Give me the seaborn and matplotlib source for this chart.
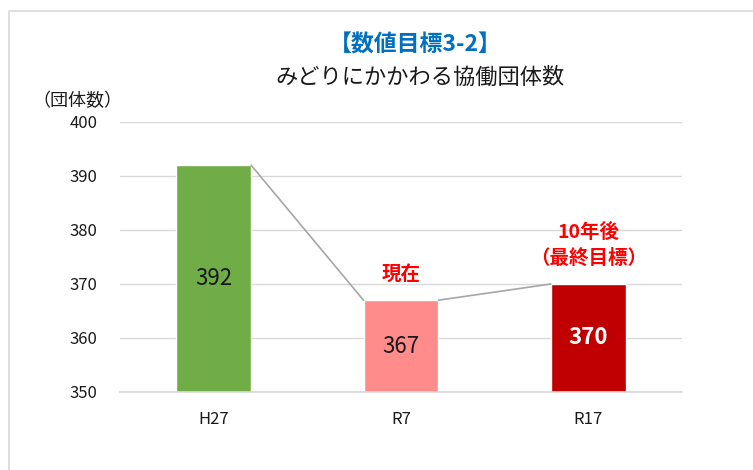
import numpy as np
import pandas as pd
import matplotlib
matplotlib.use("Agg")
import matplotlib.pyplot as plt
import seaborn as sns
from matplotlib.patches import Rectangle

categories = ["H27", "R7", "R17"]
values = [392, 367, 370]
bar_colors = ["#70AD47", "#FF8B8B", "#C00000"]
label_colors = ["#1a1a1a", "#1a1a1a", "white"]
label_weights = ["normal", "normal", "bold"]
notes = {"R7": "現在", "R17": "10年後\n（最終目標）"}
yticks = [350, 360, 370, 380, 390, 400]

sns.set_theme(style="white")
plt.rcParams['font.family'] = ['Noto Sans CJK JP', 'DejaVu Sans']

df = pd.DataFrame({"year": categories, "count": values})

fig = plt.figure(figsize=(7.53, 4.70), dpi=100)
fig.patch.set_facecolor("white")
# outer frame of the original slide
fig.patches.append(Rectangle((9 / 753, -0.2), 1.2, 1.2 - 11 / 470,
                             transform=fig.transFigure, fill=False,
                             edgecolor="#D9D9D9", lw=1.2))
ax = fig.add_axes([120 / 753, 1 - 392 / 470, 562 / 753, 270 / 470])

sns.barplot(data=df, x="year", y="count", hue="year", palette=bar_colors,
            width=0.4, legend=False, saturation=1, ax=ax)

ax.set_xlim(-0.5, 2.5)
ax.set_ylim(350, 400)
ax.set_yticks(yticks)
ax.yaxis.grid(True, color="#D9D9D9", lw=1)
ax.set_axisbelow(True)
for s in ax.spines.values():
    s.set_visible(False)
ax.spines["bottom"].set_visible(True)
ax.spines["bottom"].set_color("#D9D9D9")
ax.tick_params(axis="y", labelsize=12, pad=16, colors="#1a1a1a", length=0)
ax.tick_params(axis="x", labelsize=12, pad=14, colors="#1a1a1a", length=0)
ax.set_xlabel("")
ax.set_ylabel("")

bars = ax.patches[:len(values)]
# connecting lines between bar tops
for b1, b2 in zip(bars[:-1], bars[1:]):
    ax.plot([b1.get_x() + b1.get_width(), b2.get_x()],
            [b1.get_height(), b2.get_height()],
            color="#A6A6A6", lw=1.2, zorder=1)

for i, b in enumerate(bars):
    cx = b.get_x() + b.get_width() / 2
    ax.text(cx, (350 + values[i]) / 2, str(values[i]), ha="center", va="center",
            fontsize=16, color=label_colors[i], fontweight=label_weights[i])
    note = notes.get(categories[i])
    if note:
        ax.text(cx, values[i] + 3, note, ha="center", va="bottom", fontsize=14,
                color="#FF0000", fontweight="bold", linespacing=1.45)

fig.text(415 / 753, 1 - 45 / 470, "【数値目標3-2】", ha="center", va="center",
         fontsize=16.5, color="#0070C0", fontweight="bold")
fig.text(420 / 753, 1 - 77 / 470, "みどりにかかわる協働団体数", ha="center", va="center",
         fontsize=16, color="#1a1a1a")
fig.text(77 / 753, 1 - 101 / 470, "（団体数）", ha="center", va="center",
         fontsize=13, color="#1a1a1a")

fig.savefig("out.png", dpi=100)
